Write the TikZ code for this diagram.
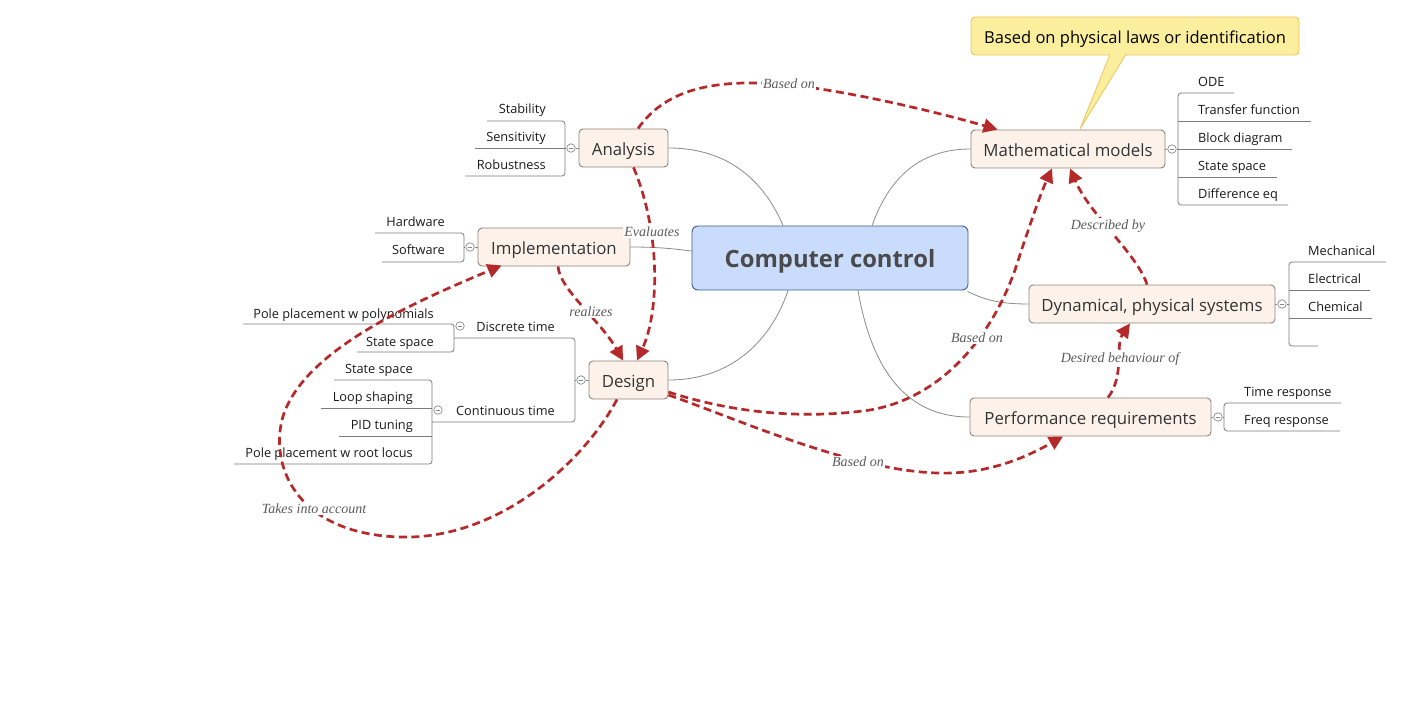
\documentclass[tikz,border=0pt]{standalone}
\usepackage{fontspec}
\setmainfont{Open Sans}
\newfontfamily\lblserif{Liberation Serif}
\usetikzlibrary{arrows.meta,calc}
\definecolor{nodefill}{HTML}{FDF2EA}
\definecolor{nodeborder}{HTML}{8E827A}
\definecolor{ccfill}{HTML}{C9DCFB}
\definecolor{ccborder}{HTML}{3D5A8C}
\definecolor{txt}{HTML}{333333}
\definecolor{cctxt}{HTML}{4A4A4A}
\definecolor{conn}{HTML}{8A8A8A}
\definecolor{relred}{HTML}{B5292A}
\definecolor{lblcol}{HTML}{5A5A5A}
\definecolor{callfill}{HTML}{FBEF9E}
\definecolor{callborder}{HTML}{EDC25C}
\definecolor{treeline}{HTML}{7A7A7A}
\definecolor{togline}{HTML}{7D8AA8}
\tikzset{
  mainbox/.style={draw=nodeborder, fill=nodefill, line width=0.9pt, rounded corners=4pt,
    minimum height=38pt, inner sep=0pt, text=txt, text height=14pt, text depth=0pt,
    font=\fontsize{16.8}{19}\selectfont},
  centerbox/.style={draw=ccborder, fill=ccfill, line width=0.9pt, rounded corners=6pt,
    minimum height=64pt, minimum width=276pt, inner sep=0pt, text=cctxt, text height=18.6pt, text depth=0pt,
    font=\bfseries\fontsize{23.8}{27}\selectfont},
  callbox/.style={draw=callborder, fill=callfill, line width=0.9pt, rounded corners=4pt,
    minimum height=38pt, minimum width=328pt, inner sep=0pt, text=black, text height=15pt, text depth=0pt,
    font=\fontsize{16.5}{19}\selectfont},
  leaf/.style={inner sep=0pt, text=black!90, text height=11.4pt, text depth=0pt,
    font=\fontsize{12.75}{15}\selectfont},
  tree/.style={draw=treeline, line width=0.8pt, rounded corners=3pt},
  conline/.style={draw=conn, line width=0.8pt},
  tog/.style={circle, draw=conn, fill=white, line width=0.7pt, minimum size=8.5pt, inner sep=0pt,
    path picture={\draw[togline, line width=0.7pt] ([xshift=-2.3pt]path picture bounding box.center) -- ([xshift=2.3pt]path picture bounding box.center);}},
  relarrow/.style={draw=relred, line width=2.7pt, dash pattern=on 8pt off 4.5pt,
    -{Triangle[length=14pt,width=14pt]}},
  rellbl/.style={font=\lblserif\itshape\fontsize{14}{16}\selectfont, text=lblcol, fill=white, inner sep=1.2pt}
}
\begin{document}
\begin{tikzpicture}[x=1pt,y=-1pt]
\useasboundingbox (0,0) rectangle (1402,717);

% ---------- main nodes ----------
\node[centerbox] (cc) at (830,258) {Computer control};
\node[mainbox, minimum width=89pt] (an) at (623.5,148) {Analysis};
\node[mainbox, minimum width=152pt] (im) at (554,247) {Implementation};
\node[mainbox, minimum width=79pt] (de) at (628.5,380) {Design};
\node[mainbox, minimum width=194pt] (mm) at (1068,149) {Mathematical models};
\node[mainbox, minimum width=246pt] (dy) at (1152,304) {Dynamical, physical systems};
\node[mainbox, minimum width=241pt] (pr) at (1090.5,417) {Performance requirements};

% ---------- connectors from the centre ----------
\draw[conline] (an.east) .. controls (740,148) and (770,195) .. ($(cc.north)+(-47,0)$);
\draw[conline] (im.east) .. controls (660,247) and (675,249) .. ($(cc.west)+(0,-7)$);
\draw[conline] (de.east) .. controls (740,380) and (775,330) .. ($(cc.south)+(-42,0)$);
\draw[conline] (mm.west) .. controls (910,149) and (885,190) .. ($(cc.north)+(42,0)$);
\draw[conline] (dy.west) .. controls (1000,304) and (985,300) .. ($(cc.south east)+(-1,1)$);
\draw[conline] (pr.west) .. controls (900,417) and (870,360) .. ($(cc.south)+(28,0)$);

% ---------- callout ----------
\node[callbox] (co) at (1135,36) {Based on physical laws or identification};
\coordinate (coA) at ($(co.south)+(-25,-1.2)$);
\coordinate (coB) at ($(co.south)+(-9,-1.2)$);
\coordinate (coT) at ($(mm.north)+(12,-0.5)$);
\fill[callfill] (coA) -- (coT) -- (coB) -- cycle;
\draw[draw=callborder, line width=0.8pt] (coA) -- (coT) -- (coB);

% ---------- Analysis subtree ----------
\node[tog] (ta) at (571,148) {};
\draw[conline] (ta) -- (an);
\draw[tree] (487,121) -- (565,121) -- (565,176) -- (465,176);
\draw[tree] (475,148) -- (ta);
\node[leaf, anchor=east] (a1) at (546,108) {Stability};
\node[leaf, anchor=east] (a2) at (546,136) {Sensitivity};
\node[leaf, anchor=east] (a3) at (546,164) {Robustness};

% ---------- Implementation subtree ----------
\node[tog] (ti) at (470,247) {};
\draw[conline] (ti) -- (im);
\draw[tree] (375,233) -- (464,233) -- (464,262) -- (382,262);
\draw[tree] (464,247) -- (ti);
\node[leaf, anchor=east] (i1) at (445,221) {Hardware};
\node[leaf, anchor=east] (i2) at (445,249) {Software};

% ---------- Design subtree ----------
\node[tog] (td) at (581,380) {};
\draw[conline] (td) -- (de);
\draw[tree] (454,338) -- (575,338) -- (575,422) -- (432,422);
\draw[tree] (575,380) -- (td);
\node[leaf, anchor=east] (d1) at (555,326) {Discrete time};
\node[leaf, anchor=east] (d2) at (555,410) {Continuous time};
\node[tog] (tdd) at (460,326) {};
\node[tog] (tdc) at (438,410) {};
\draw[tree] (243,324) -- (454,324) -- (454,352) -- (357,352);
\node[leaf, anchor=east] (d11) at (434,313) {Pole placement w polynomials};
\node[leaf, anchor=east] (d12) at (434,341) {State space};
\draw[tree] (334,380) -- (432,380) -- (432,464) -- (234,464);
\draw[tree] (321,408) -- (432,408);
\draw[tree] (339,436) -- (432,436);
\node[leaf, anchor=east] (d21) at (413,368) {State space};
\node[leaf, anchor=east] (d22) at (413,396) {Loop shaping};
\node[leaf, anchor=east] (d23) at (413,424) {PID tuning};
\node[leaf, anchor=east] (d24) at (413,452) {Pole placement w root locus};

% ---------- Mathematical models subtree ----------
\node[tog] (tm) at (1172,149) {};
\draw[conline] (mm) -- (tm);
\draw[tree] (1234,93) -- (1178,93) -- (1178,205) -- (1288,205);
\draw[tree] (1178,121) -- (1311,121);
\draw[tree] (1178,177) -- (1277,177);
\draw[tree] (tm) -- (1292,149);
\node[leaf, anchor=west] (m1) at (1198,81) {ODE};
\node[leaf, anchor=west] (m2) at (1198,109) {Transfer function};
\node[leaf, anchor=west] (m3) at (1198,137) {Block diagram};
\node[leaf, anchor=west] (m4) at (1198,165) {State space};
\node[leaf, anchor=west] (m5) at (1198,193) {Difference eq};

% ---------- Dynamical systems subtree ----------
\node[tog] (ty) at (1282,304) {};
\draw[conline] (dy) -- (ty);
\draw[tree] (1386,262) -- (1289,262) -- (1289,346) -- (1318,346);
\draw[tree] (1289,290) -- (1370,290);
\draw[tree] (1289,318) -- (1372,318);
\draw[tree] (ty) -- (1289,304);
\node[leaf, anchor=west] (y1) at (1308,250) {Mechanical};
\node[leaf, anchor=west] (y2) at (1308,278) {Electrical};
\node[leaf, anchor=west] (y3) at (1308,306) {Chemical};

% ---------- Performance subtree ----------
\node[tog] (tp) at (1218,417) {};
\draw[conline] (pr) -- (tp);
\draw[tree] (1341,403) -- (1224,403) -- (1224,431) -- (1340,431);
\draw[tree] (tp) -- (1224,417);
\node[leaf, anchor=west] (p1) at (1244,391) {Time response};
\node[leaf, anchor=west] (p2) at (1244,419) {Freq response};

% ---------- relationship arrows ----------
\draw[relarrow] ($(an.north)+(14.5,0)$) .. controls (665,90) and (710,82) .. (760,83)
   .. controls (820,84) and (930,110) .. ($(mm.north west)+(27,0)$);
\draw[relarrow] ($(an.south)+(10,0)$) .. controls (660,230) and (660,310) .. ($(de.north)+(8.5,0)$);
\draw[relarrow] ($(im.south)+(4,0)$) .. controls (560,290) and (600,320) .. ($(de.north)+(-5.5,0)$);
\draw[relarrow] ($(de.south)+(-11.5,0)$) .. controls (585,460) and (500,540) .. (400,537)
   .. controls (300,534) and (270,470) .. (282,420)
   .. controls (300,350) and (420,300) .. ($(im.south west)+(24,-1)$);
\draw[relarrow] ($(de.east)+(0,12)$) .. controls (730,412) and (800,420) .. (870,410)
   .. controls (940,398) and (990,340) .. (1015,270)
   .. controls (1028,230) and (1040,195) .. ($(mm.south)+(-16,0)$);
\draw[relarrow] ($(de.east)+(0,15)$) .. controls (740,420) and (850,470) .. (937,473)
   .. controls (990,475) and (1030,455) .. ($(pr.south)+(-27.5,0)$);
\draw[relarrow] ($(dy.north)+(-5,0)$) .. controls (1138,255) and (1090,215) .. ($(mm.south)+(2,0)$);
\draw[relarrow] ($(pr.north)+(17.5,0)$) .. controls (1125,375) and (1115,345) .. ($(dy.south)+(-22,0)$);

% ---------- relationship labels ----------
\node[rellbl] (l1) at (789,84) {Based on};
\node[rellbl] (l2) at (652,232) {Evaluates};
\node[rellbl] (l3) at (591,312) {realizes};
\node[rellbl] (l4) at (314,509) {Takes into account};
\node[rellbl] (l5) at (977,338) {Based on};
\node[rellbl] (l6) at (858,462) {Based on};
\node[rellbl] (l7) at (1108,226) {Described by};
\node[rellbl] (l8) at (1120,359) {Desired behaviour of};
\end{tikzpicture}
\end{document}
